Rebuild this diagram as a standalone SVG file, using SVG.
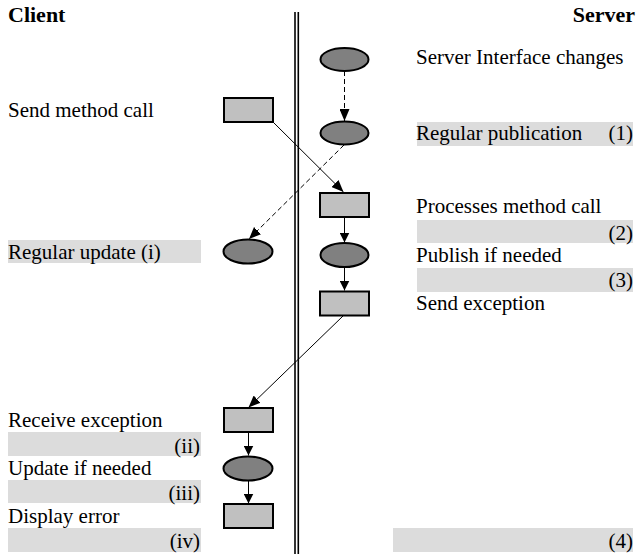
<svg xmlns="http://www.w3.org/2000/svg" width="638" height="554" viewBox="0 0 638 554">
  <defs>
    <marker id="head" viewBox="0 0 10 10" refX="10" refY="5" markerWidth="10" markerHeight="10" markerUnits="userSpaceOnUse" orient="auto">
      <path d="M0,0 L10,5 L0,10 z" fill="#000"/>
    </marker>
    <marker id="headL" viewBox="0 0 12 10" refX="12" refY="5" markerWidth="12" markerHeight="10" markerUnits="userSpaceOnUse" orient="auto">
      <path d="M0,0 L12,5 L0,10 z" fill="#000"/>
    </marker>
    <style>
      .r { text-anchor: end; }
      .bar { fill: #dcdcdc; stroke: none; }
      .box { fill: #c0c0c0; stroke: #000; stroke-width: 2; }
      .oval { fill: #808080; stroke: #000; stroke-width: 2; }
      .solid { fill: none; stroke: #000; stroke-width: 1; }
      .dash { fill: none; stroke: #000; stroke-width: 1; stroke-dasharray: 5 3; }
      .wall { stroke: #000; stroke-width: 1.6; }
    </style>
  </defs>

  <!-- column headings -->
  <g font-family="Liberation Serif, Tinos, Times New Roman, serif" font-size="22" font-weight="bold" fill="#000">
    <text x="8" y="22">Client</text>
    <text class="r" x="635" y="22">Server</text>
  </g>

  <!-- client / server boundary -->
  <g id="boundary">
    <line class="wall" x1="295" y1="12" x2="295" y2="554"/>
    <line class="wall" x1="298.3" y1="12" x2="298.3" y2="554"/>
  </g>

  <!-- highlighted label bands -->
  <g id="bands">
    <rect class="bar" x="417" y="122" width="216" height="24"/>
    <rect class="bar" x="417" y="220" width="216" height="23"/>
    <rect class="bar" x="417" y="268" width="216" height="24"/>
    <rect class="bar" x="8" y="240" width="193" height="23"/>
    <rect class="bar" x="8" y="432" width="193" height="24"/>
    <rect class="bar" x="8" y="480" width="193" height="23"/>
    <rect class="bar" x="8" y="528" width="193" height="24"/>
    <rect class="bar" x="393" y="528" width="240" height="24"/>
  </g>

  <!-- labels -->
  <g id="labels" font-family="Liberation Serif, Tinos, Times New Roman, serif" font-size="21" fill="#000">
    <text x="416" y="64">Server Interface changes</text>
    <text x="416" y="140">Regular publication</text>
    <text class="r" x="633" y="140">(1)</text>
    <text x="416" y="213">Processes method call</text>
    <text class="r" x="633" y="240">(2)</text>
    <text x="416" y="262">Publish if needed</text>
    <text class="r" x="633" y="287">(3)</text>
    <text x="416" y="310">Send exception</text>
    <text class="r" x="633" y="548">(4)</text>

    <text x="8" y="117">Send method call</text>
    <text x="8" y="259">Regular update (i)</text>
    <text x="8" y="427">Receive exception</text>
    <text class="r" x="200" y="453">(ii)</text>
    <text x="8" y="475">Update if needed</text>
    <text class="r" x="200" y="500">(iii)</text>
    <text x="8" y="523">Display error</text>
    <text class="r" x="200" y="548">(iv)</text>
  </g>

  <!-- connectors -->
  <g id="connectors">
    <line class="dash" x1="344.5" y1="71" x2="344.5" y2="121" marker-end="url(#headL)"/>
    <line class="solid" x1="273" y1="122" x2="343.5" y2="192" marker-end="url(#headL)"/>
    <line class="dash" x1="344" y1="145" x2="249" y2="239" marker-end="url(#headL)"/>
    <line class="solid" x1="344.5" y1="217" x2="344.5" y2="242.5" marker-end="url(#head)"/>
    <line class="solid" x1="344.5" y1="267" x2="344.5" y2="290.5" marker-end="url(#head)"/>
    <line class="solid" x1="343" y1="316" x2="248.5" y2="407.5" marker-end="url(#headL)"/>
    <line class="solid" x1="248.5" y1="432" x2="248.5" y2="455.5" marker-end="url(#head)"/>
    <line class="solid" x1="248.5" y1="481" x2="248.5" y2="503.5" marker-end="url(#head)"/>
  </g>

  <!-- server nodes -->
  <g id="srv-interface"><ellipse class="oval" cx="344.5" cy="59.5" rx="24" ry="11.5"/></g>
  <g id="srv-publication"><ellipse class="oval" cx="344.5" cy="133" rx="24" ry="11.5"/></g>
  <g id="srv-process"><rect class="box" x="320" y="193" width="49" height="24"/></g>
  <g id="srv-publish"><ellipse class="oval" cx="344.5" cy="255" rx="24" ry="12"/></g>
  <g id="srv-exception"><rect class="box" x="320" y="291.5" width="49" height="24"/></g>

  <!-- client nodes -->
  <g id="cli-send"><rect class="box" x="224" y="98" width="49" height="24"/></g>
  <g id="cli-update"><ellipse class="oval" cx="248" cy="251.5" rx="24.5" ry="12"/></g>
  <g id="cli-receive"><rect class="box" x="224" y="408" width="49" height="24"/></g>
  <g id="cli-refresh"><ellipse class="oval" cx="248" cy="468.5" rx="24.5" ry="12"/></g>
  <g id="cli-error"><rect class="box" x="224" y="504" width="49" height="24"/></g>
</svg>
